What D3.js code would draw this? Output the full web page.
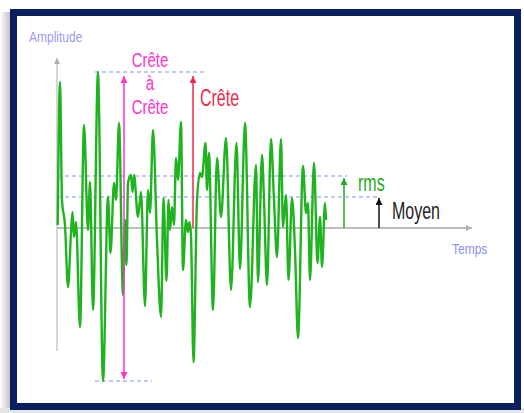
<!DOCTYPE html>
<html>
<head>
<meta charset="utf-8">
<script src="https://cdn.jsdelivr.net/npm/d3@7.9.0/dist/d3.min.js"></script>
<style>
  html, body { margin: 0; padding: 0; background: #fff; overflow: hidden; }
  text { font-family: "Liberation Sans", Arial, sans-serif; }
</style>
</head>
<body>
<svg width="524" height="413"></svg>
<script>
// signal: time (arbitrary units) and amplitude
const times = [0.07, 0.3, 0.5, 0.8, 1.1, 1.4, 1.55, 1.7, 1.9, 2.3, 2.7, 3.1, 3.3, 3.6, 4.1, 4.6,
  5.1, 5.35, 5.7, 5.9, 6.2, 6.6, 6.8, 6.95, 7.1, 7.4, 7.55, 7.7, 8.1, 8.4, 8.8, 9.1, 9.3, 9.6,
  10.0, 10.4, 10.65, 10.95, 11.15, 11.3, 11.5, 11.7, 11.9, 12.1, 12.4, 12.6, 12.9, 13.1, 13.25,
  13.4, 13.65, 14.0, 14.3, 14.5, 14.85, 15.0, 15.2, 15.6, 16.0, 16.4, 16.9, 17.4, 17.95, 18.3,
  18.8, 19.3, 19.9, 20.1, 20.5, 20.7, 21.0, 21.4, 21.7, 22.0, 22.4, 22.6, 22.9, 23.15, 23.5,
  23.8, 24.1, 24.6, 24.9, 25.1, 25.3, 25.7, 26.05, 26.3, 26.5, 26.8, 26.9];
const amplitudes = [0.3, 14.6, 2.8, 0.3, -5.9, -0.5, 1.6, -0.9, 0.6, -9.9, 10.3, -0.2, 4.6, -8.2, 15.6, -15.3,
  3.1, -2.5, 4.5, 2.8, 10.5, -6.7, 0.8, -3.7, 4.5, 5.3, 3.6, 5.3, 1.1, 3.6, -7.8, 3.8, 1.5, 9.8,
  -1.2, -8.9, 3.0, -5.3, 2.8, -0.2, 2.1, 0.3, 7.0, 4.8, 10.6, -4.2, 0.8, -0.4, 0.6,
  -0.7, -13.4, 2.8, 5.5, 5.1, 8.5, 3.8, 7.5, -8.2, 7.0, 1.1, 9.0, -6.2, 8.5, -4.1,
  10.5, -7.9, 6.3, -5.4, 7.3, 2.8, -5.7, 8.9, 2.8, -2.9, 8.9, 0.1, 3.3, -5.2, 3.0,
  -2.2, -11.0, 6.2, 1.5, 2.5, -5.2, 6.5, -3.5, 1.1, -3.9, 2.5, 0.8];

// levels shown on the chart
const crestLevel = 15.6;
const troughLevel = -15.3;
const rmsLevel = 5.2;
const meanLevel = 3.1;

const axisLabels = ["Amplitude", "Temps"];

const svg = d3.select('svg');
const x = d3.scaleLinear().domain([0, 41.5]).range([57, 472]);
const y = d3.scaleLinear().domain([-16, 16]).range([388, 68]);

// frame + grey shadow on the left
const defs = svg.append('defs');
const grad = defs.append('linearGradient').attr('id', 'shadow');
grad.append('stop').attr('offset', '0%').attr('stop-color', '#ffffff');
grad.append('stop').attr('offset', '100%').attr('stop-color', '#bdbdbd');
svg.append('rect').attr('x', 0).attr('y', 12).attr('width', 11).attr('height', 400).attr('fill', 'url(#shadow)');
svg.append('rect').attr('x', 0).attr('y', 408).attr('width', 524).attr('height', 5).attr('fill', '#e6e6e6');
svg.append('rect')
  .attr('x', 13.5).attr('y', 12.5).attr('width', 504).attr('height', 394)
  .attr('fill', '#fff').attr('stroke', '#0b1f5e').attr('stroke-width', 7);

function marker(id, color, w, h) {
  defs.append('marker')
    .attr('id', id).attr('viewBox', '0 -5 10 10')
    .attr('refX', 10).attr('refY', 0)
    .attr('markerUnits', 'userSpaceOnUse')
    .attr('markerWidth', h).attr('markerHeight', w)
    .attr('orient', 'auto-start-reverse')
    .append('path').attr('d', 'M0,-5L10,0L0,5Z').attr('fill', color);
}
marker('a-gray', '#b0b0b0', 6, 8);
marker('a-pink', '#ff33cc', 7, 10);
marker('a-red', '#ee2a4a', 7, 10);
marker('a-green', '#22aa22', 7, 10);
marker('a-black', '#111', 7, 10);

// axes
svg.append('line')
  .attr('x1', x(0)).attr('x2', x(0)).attr('y1', y(-12.3)).attr('y2', y(17))
  .attr('stroke', '#c8c8c8').attr('stroke-width', 1.5).attr('marker-end', 'url(#a-gray)');
svg.append('line')
  .attr('x1', x(0)).attr('x2', x(41.5)).attr('y1', y(0)).attr('y2', y(0))
  .attr('stroke', '#a8a8a8').attr('stroke-width', 1.5).attr('marker-end', 'url(#a-gray)');

// dashed reference lines
const dashes = [
  { v: crestLevel, t0: 3.8, t1: 15.0 },
  { v: troughLevel, t0: 3.8, t1: 9.5 },
  { v: rmsLevel, t0: 0.1, t1: 29.0 },
  { v: meanLevel, t0: 0.1, t1: 32.3 }
];
svg.selectAll('line.dash').data(dashes).join('line')
  .attr('class', 'dash')
  .attr('x1', d => x(d.t0)).attr('x2', d => x(d.t1))
  .attr('y1', d => y(d.v)).attr('y2', d => y(d.v))
  .attr('stroke', '#7f97f0').attr('stroke-width', 1.2).attr('stroke-dasharray', '4,3');

// signal
const points = d3.zip(times, amplitudes);
svg.append('path')
  .datum(points)
  .attr('fill', 'none')
  .attr('stroke', '#1fb31f')
  .attr('stroke-width', 2.4)
  .attr('stroke-linejoin', 'round')
  .attr('d', d3.line().x(d => x(d[0])).y(d => y(d[1])).curve(d3.curveMonotoneX));

// arrows
svg.append('line')
  .attr('x1', x(6.7)).attr('x2', x(6.7)).attr('y1', y(troughLevel) - 2).attr('y2', y(crestLevel) + 4)
  .attr('stroke', '#ff33cc').attr('stroke-width', 1.5)
  .attr('marker-start', 'url(#a-pink)').attr('marker-end', 'url(#a-pink)');
svg.append('line')
  .attr('x1', x(13.6)).attr('x2', x(13.6)).attr('y1', y(0)).attr('y2', y(crestLevel) + 4)
  .attr('stroke', '#ee2a4a').attr('stroke-width', 1.5).attr('marker-end', 'url(#a-red)');
svg.append('line')
  .attr('x1', x(28.7)).attr('x2', x(28.7)).attr('y1', y(0)).attr('y2', y(rmsLevel) + 2)
  .attr('stroke', '#22aa22').attr('stroke-width', 1.5).attr('marker-end', 'url(#a-green)');
svg.append('line')
  .attr('x1', x(32.2)).attr('x2', x(32.2)).attr('y1', y(0)).attr('y2', y(meanLevel) + 1)
  .attr('stroke', '#111').attr('stroke-width', 1.5).attr('marker-end', 'url(#a-black)');

// labels (text is vertically stretched in the original)
function label(txt, px, py, size, color, sy, anchor) {
  svg.append('text')
    .attr('transform', `translate(${px},${py}) scale(1,${sy})`)
    .attr('text-anchor', anchor || 'start')
    .attr('font-size', size)
    .attr('fill', color)
    .text(txt);
}
label(axisLabels[0], 29, 42, 12, '#9a9af5', 1.2);
label(axisLabels[1], 452, 254, 12, '#8a8ef0', 1.2);
label('Crête', 150, 67, 15, '#ff33cc', 1.3, 'middle');
label('à', 150, 90, 15, '#ff33cc', 1.3, 'middle');
label('Crête', 150, 114, 15, '#ff33cc', 1.3, 'middle');
label('Crête', 200, 106, 16, '#ee2a4a', 1.45);
label('rms', 358, 191, 16, '#22aa22', 1.5);
label('Moyen', 392, 219, 16, '#222', 1.5);
</script>
</body>
</html>
